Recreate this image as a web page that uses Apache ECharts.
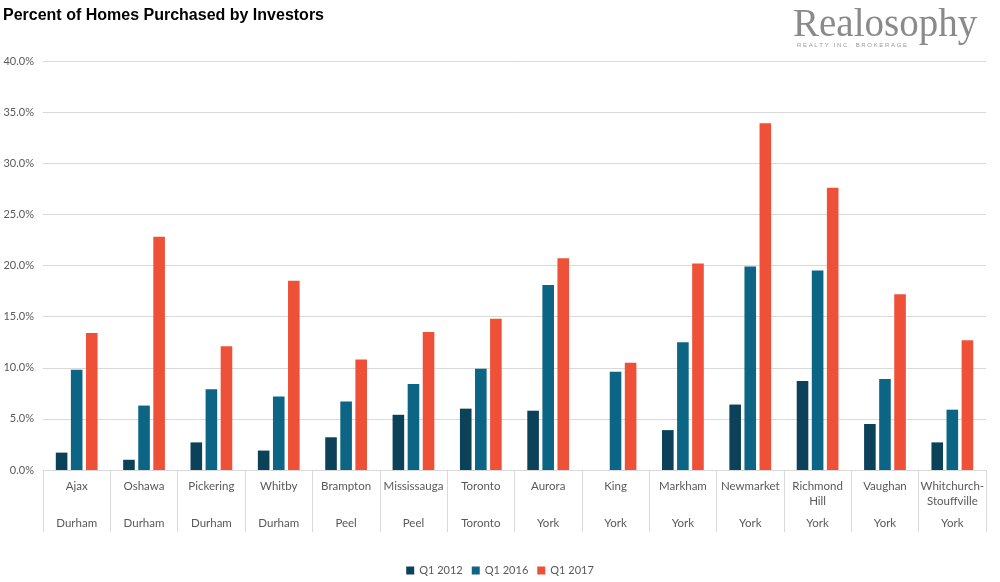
<!DOCTYPE html>
<html>
<head>
<meta charset="utf-8">
<script src="https://cdn.jsdelivr.net/npm/echarts@6/dist/echarts.min.js"></script>
<style>
html,body{margin:0;padding:0;background:#fff;}
#main{width:1000px;height:582px;}
</style>
</head>
<body>
<div id="main"></div>
<script>
const cities = ['Ajax','Oshawa','Pickering','Whitby','Brampton','Mississauga','Toronto','Aurora','King','Markham','Newmarket','Richmond\nHill','Vaughan','Whitchurch-\nStouffville'];
const regions = ['Durham','Durham','Durham','Durham','Peel','Peel','Toronto','York','York','York','York','York','York','York'];
const seriesNames = ['Q1 2012','Q1 2016','Q1 2017'];
const q12012 = [1.7, 1.0, 2.7, 1.9, 3.2, 5.4, 6.0, 5.8, 0, 3.9, 6.4, 8.7, 4.5, 2.7];
const q12016 = [9.8, 6.3, 7.9, 7.2, 6.7, 8.4, 9.9, 18.1, 9.6, 12.5, 19.9, 19.5, 8.9, 5.9];
const q12017 = [13.4, 22.8, 12.1, 18.5, 10.8, 13.5, 14.8, 20.7, 10.5, 20.2, 33.9, 27.6, 17.2, 12.7];
const colors = ['#0B4259','#0C6585','#EF5038'];

const chart = echarts.init(document.getElementById('main'));
const labelFont = 'Lato, "Open Sans", sans-serif';
chart.setOption({
  animation: false,
  backgroundColor: '#ffffff',
  color: colors,
  title: {
    text: 'Percent of Homes Purchased by Investors',
    left: -2, top: 3,
    textStyle: {fontFamily: '"Liberation Sans", Arial, sans-serif', fontWeight: 'bold', fontSize: 16, color: '#000'}
  },
  graphic: [
    {type: 'text', left: 793, top: 6, style: {text: 'Realosophy', font: '39px "Liberation Serif", "DejaVu Serif", serif', fill: '#8a8a8a'}},
    {type: 'text', left: 797, top: 42, style: {text: 'R E A L T Y   I N C .   B R O K E R A G E', font: '6px "Liberation Sans", sans-serif', fill: '#999'}}
  ],
  legend: {
    data: seriesNames,
    bottom: 1, left: 'center',
    icon: 'rect', itemWidth: 8, itemHeight: 8, itemGap: 9,
    textStyle: {fontFamily: labelFont, fontSize: 11, color: '#595959'}
  },
  grid: {left: 43, right: 14, top: 61, bottom: 112},
  xAxis: [
    {
      type: 'category', data: cities, position: 'bottom',
      axisLine: {lineStyle: {color: '#d9d9d9'}},
      axisTick: {show: true, length: 62, lineStyle: {color: '#d9d9d9'}},
      axisLabel: {interval: 0, margin: 9, fontFamily: labelFont, fontSize: 11.5, color: '#595959', lineHeight: 15, verticalAlign: 'top'}
    },
    {
      type: 'category', data: regions, position: 'bottom',
      axisLine: {show: false}, axisTick: {show: false},
      axisLabel: {interval: 0, margin: 47, fontFamily: labelFont, fontSize: 11.5, color: '#595959', verticalAlign: 'top'}
    }
  ],
  yAxis: {
    type: 'value', min: 0, max: 40, interval: 5,
    axisLine: {show: false}, axisTick: {show: false},
    splitLine: {lineStyle: {color: '#d9d9d9'}},
    axisLabel: {formatter: v => v.toFixed(1) + '%', fontFamily: labelFont, fontSize: 11, color: '#595959', margin: 9}
  },
  series: [
    {name: seriesNames[0], type: 'bar', data: q12012, barGap: '30%', barCategoryGap: '38%'},
    {name: seriesNames[1], type: 'bar', data: q12016, barGap: '30%', barCategoryGap: '38%'},
    {name: seriesNames[2], type: 'bar', data: q12017, barGap: '30%', barCategoryGap: '38%'}
  ]
});
</script>
</body>
</html>
